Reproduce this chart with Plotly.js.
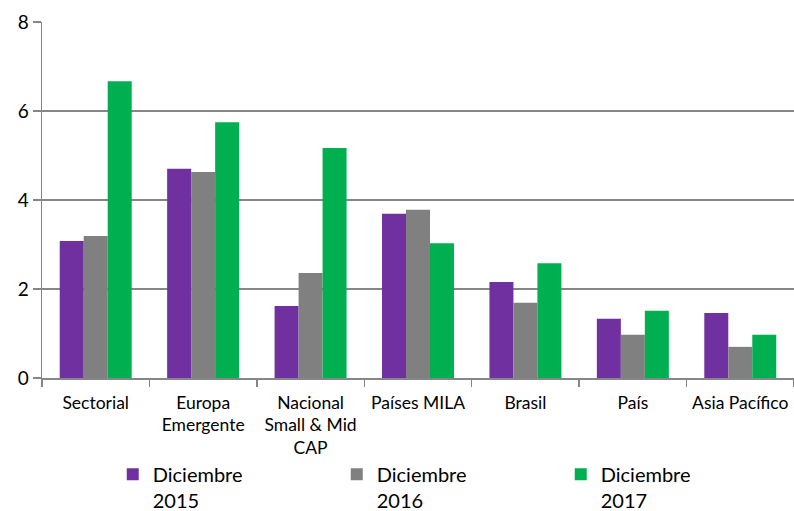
<!DOCTYPE html>
<html><head><meta charset="utf-8">
<script src="https://cdn.plot.ly/plotly-3.0.1.min.js"></script>
<style>body{margin:0;background:#fff}#c{width:794px;height:511px}</style>
</head><body><div id="c"></div>
<script>
const categories = ["Sectorial", "Europa<br>Emergente", "Nacional<br>Small & Mid<br>CAP", "Países MILA", "Brasil", "País", "Asia Pacífico"];
const seriesNames = ["Diciembre<br>2015", "Diciembre<br>2016", "Diciembre<br>2017"];
const dic2015 = [3.08, 4.70, 1.62, 3.69, 2.16, 1.33, 1.46];
const dic2016 = [3.19, 4.63, 2.36, 3.78, 1.69, 0.97, 0.70];
const dic2017 = [6.67, 5.75, 5.17, 3.03, 2.58, 1.51, 0.97];
const colors = ["#7030A0", "#808080", "#00B050"];

const font = "Lato, 'Open Sans', sans-serif";
const data = [dic2015, dic2016, dic2017].map((v, i) => ({
  type: "bar", x: categories, y: v, name: seriesNames[i],
  marker: {color: colors[i], line: {width: 0}}
}));
const layout = {
  width: 794, height: 511,
  margin: {l: 42, r: 0, t: 22, b: 133},
  paper_bgcolor: "#fff", plot_bgcolor: "#fff",
  barmode: "group", bargap: 0.33, bargroupgap: 0,
  font: {family: font, size: 17.5, color: "#000"},
  xaxis: {
    type: "category", tickson: "boundaries", ticks: "outside", ticklen: 7,
    tickcolor: "#868686", tickwidth: 1.5, ticklabelstandoff: 8,
    showline: true, linecolor: "#868686", linewidth: 1.5,
    showgrid: false, tickfont: {size: 17.5}, automargin: false
  },
  yaxis: {
    range: [0, 8], dtick: 2, ticks: "outside", ticklen: 8,
    tickcolor: "#868686", tickwidth: 1.5,
    showline: true, linecolor: "#868686", linewidth: 1.5,
    showgrid: true, gridcolor: "#868686", gridwidth: 1.5,
    zeroline: false, tickfont: {size: 19}, automargin: false
  },
  showlegend: true,
  legend: {
    orientation: "h", xref: "container", yref: "container",
    x: 0.142, xanchor: "left", y: 0.11, yanchor: "top",
    entrywidth: 179, entrywidthmode: "pixels", valign: "top",
    font: {size: 20}, traceorder: "normal"
  }
};
Plotly.newPlot("c", data, layout, {displayModeBar: false, staticPlot: true});
</script></body></html>
